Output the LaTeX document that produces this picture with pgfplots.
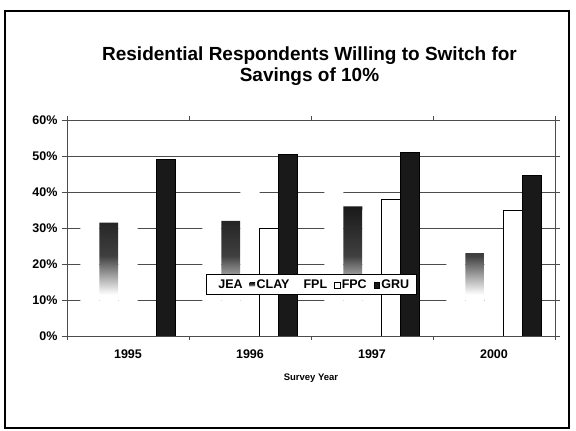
\documentclass[border=0pt]{standalone}
\usepackage{pgfplots}
\pgfplotsset{compat=1.18}
\usepackage{fontspec}
\setmainfont{Liberation Sans}

% dark top fading to white toward the base of the bar
\pgfdeclareverticalshading{clayfade}{100bp}{%
  color(0bp)=(white); color(25bp)=(white); color(41bp)=(white);
  color(56bp)=(black!75); color(75bp)=(black!90); color(100bp)=(black!90)}

\definecolor{gridgray}{gray}{0.30}

\begin{document}
\begin{tikzpicture}[x=1pt,y=1pt]
\path[use as bounding box] (0,0) rectangle (576,431);
% outer frame of the slide
\draw[line width=1.8pt] (5,3) rectangle (569,420);

\begin{axis}[
  at={(67pt,95pt)}, anchor=south west,
  scale only axis, width=488pt, height=216pt,
  xmin=-0.5, xmax=3.5, ymin=0, ymax=60,
  ybar, bar width=0.156,
  xtick={0,1,2,3},
  xticklabels={1995,1996,1997,2000},
  minor xtick={-0.5,0.5,1.5,2.5,3.5},
  major x tick style={draw=none},
  minor tick length=4pt,
  ytick={0,10,...,60},
  yticklabel={\pgfmathprintnumber{\tick}\%},
  /pgf/number format/assume math mode=true,
  tick align=outside,
  major tick length=5pt,
  tick style={gridgray, line width=0.8pt},
  ymajorgrids,
  grid style={gridgray, line width=0.9pt},
  axis line style={gridgray, line width=0.9pt},
  xticklabel style={font=\bfseries\fontsize{12.5}{14}\selectfont, yshift=-5pt},
  yticklabel style={font=\bfseries\fontsize{12.5}{14}\selectfont, xshift=-1pt},
  xlabel={Survey Year},
  xlabel style={font=\bfseries\fontsize{9.5}{11}\selectfont, yshift=-9pt},
  title={Residential Respondents Willing to Switch for\\Savings of 10\%},
  title style={font=\bfseries\fontsize{19}{21}\selectfont, align=center,
    at={(0.5,1)}, anchor=north, inner sep=0pt, yshift=67pt, xshift=-1.5pt},
  legend columns=-1,
  legend style={at={(0.5,0.238)}, anchor=center, draw=black, line width=0.6pt,
    fill=white, inner xsep=5.5pt, inner ysep=3pt,
    font=\bfseries\fontsize{12.5}{14}\selectfont,
    nodes={inner xsep=1.5pt},
    /tikz/every even column/.append style={column sep=5.5pt}},
  legend image code/.code={\path[#1, line width=0.6pt] (0pt,-3.5pt) rectangle (5.5pt,2.5pt);},
]
% JEA: white bars
\addplot[draw=none, fill=white, bar shift=-0.312]
  coordinates {(0,33) (1,35) (2,43) (3,25)};
% CLAY
\addplot[draw=none, shade, shading=clayfade, bar shift=-0.156,
  legend image code/.code={\fill[black!70] (0pt,-3.5pt) rectangle (5.5pt,2pt);}]
  coordinates {(0,31.5) (1,32) (2,36) (3,23)};
% FPL: white bars
\addplot[draw=none, fill=white, bar shift=0]
  coordinates {(0,33) (1,43) (2,35) (3,25)};
% FPC
\addplot[draw=black, fill=white, line width=0.8pt, bar shift=0.156]
  coordinates {(1,30) (2,38) (3,35)};
% GRU
\addplot[draw=black, fill=black!90, line width=0.8pt, bar shift=0.312]
  coordinates {(0,49) (1,50.5) (2,51) (3,44.5)};
\legend{JEA,CLAY,FPL,FPC,GRU}
\end{axis}
\end{tikzpicture}
\end{document}
